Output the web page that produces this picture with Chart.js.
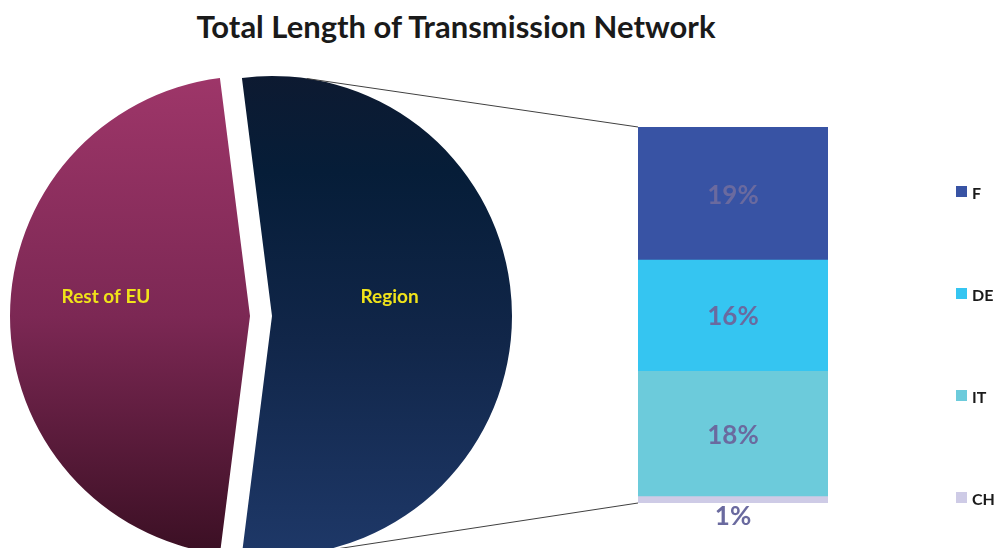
<!DOCTYPE html>
<html>
<head>
<meta charset="utf-8">
<title>Total Length of Transmission Network</title>
<script src="https://cdn.jsdelivr.net/npm/chart.js@4.4.1/dist/chart.umd.min.js"></script>
<style>
  body { margin: 0; background: #fff; font-family: Lato, sans-serif; }
  #quadro { position: relative; width: 996px; height: 548px; overflow: hidden; }
  #titulo { position: absolute; left: 0; top: 7px; width: 912px; text-align: center; font-weight: bold; font-size: 31px; color: #1a1a1a; }
  canvas { position: absolute; }
  #barra { left: 600px; top: 100px; }
  #pizza { left: 0; top: 0; }
  #legenda { position: absolute; left: 956px; top: 186px; }
  .item { height: 102px; display: flex; align-items: flex-start; font-weight: bold; font-size: 16px; line-height: 13px; color: #1a1a1a; }
  .caixa { width: 11px; height: 11px; margin-right: 5px; }
</style>
</head>
<body>
<div id="quadro">
  <div id="titulo">Total Length of Transmission Network</div>
  <canvas id="barra" width="300" height="448"></canvas>
  <canvas id="pizza" width="996" height="548"></canvas>
  <div id="legenda"></div>
</div>
<script>
// Dados
const fatias = ['Region', 'Rest of EU'];
const valoresFatias = [54, 46];
const paises = ['F', 'DE', 'IT', 'CH'];
const valoresPaises = [19, 16, 18, 1];

const totalRegiao = valoresPaises.reduce((a, b) => a + b, 0);
const totalPizza = valoresFatias.reduce((a, b) => a + b, 0);

// Cores
const corPaises = ['#3853a4', '#35c5f1', '#6ccbdb', '#cecbe6'];
const paradasFatias = [
  [[0, '#0d1a31'], [0.2, '#061d38'], [0.55, '#112649'], [1, '#1e3868']],
  [[0, '#9e3669'], [0.5, '#7c2854'], [1, '#3a0f23']]
];
const RAIO = 240;
const EXPLOSAO = 11;

// Degradê vertical de cada fatia
function gradiente(context) {
  const { chart, dataIndex } = context;
  const area = chart.chartArea;
  if (!area) return null;
  const cy = (area.top + area.bottom) / 2;
  const g = chart.ctx.createLinearGradient(0, cy - RAIO, 0, cy + RAIO);
  paradasFatias[dataIndex].forEach(([p, c]) => g.addColorStop(p, c));
  return g;
}

// Percentuais dentro da barra (ou logo abaixo, se o segmento for fino)
const rotulosBarra = {
  id: 'rotulosBarra',
  afterDatasetsDraw(chart) {
    const ctx = chart.ctx;
    ctx.save();
    ctx.font = 'bold 26px Lato';
    ctx.fillStyle = '#6a6a9f';
    ctx.textAlign = 'center';
    ctx.textBaseline = 'middle';
    chart.data.datasets.forEach((ds, i) => {
      const bar = chart.getDatasetMeta(i).data[0];
      const alto = Math.abs(bar.base - bar.y);
      const y = alto < 20 ? Math.max(bar.base, bar.y) + 14 : (bar.base + bar.y) / 2 + 2;
      ctx.fillText(ds.data[0] + '%', bar.x, y);
    });
    ctx.restore();
  }
};

const barChart = new Chart(document.getElementById('barra'), {
  type: 'bar',
  data: {
    labels: ['Region'],
    datasets: paises.map((p, i) => ({
      label: p,
      data: [valoresPaises[i]],
      backgroundColor: corPaises[i],
      borderWidth: 0,
      barPercentage: 1,
      categoryPercentage: 1
    }))
  },
  options: {
    responsive: false,
    animation: false,
    layout: { padding: { left: 38, right: 72, top: 27, bottom: 45 } },
    scales: {
      x: { stacked: true, display: false },
      y: { stacked: true, display: false, reverse: true, min: 0, max: totalRegiao }
    },
    plugins: { legend: { display: false }, tooltip: { enabled: false } }
  },
  plugins: [rotulosBarra]
});

// Afasta cada fatia do centro ao longo do seu ângulo médio
const explodir = {
  id: 'explodir',
  afterDatasetUpdate(chart, args) {
    args.meta.data.forEach(arc => {
      const meio = (arc.startAngle + arc.endAngle) / 2;
      arc.x += Math.cos(meio) * EXPLOSAO;
      arc.y += Math.sin(meio) * EXPLOSAO;
    });
  }
};

// Nomes das fatias
const posRotulo = [0.49, 0.6];
const rotulosPizza = {
  id: 'rotulosPizza',
  afterDatasetsDraw(chart) {
    const ctx = chart.ctx;
    ctx.save();
    ctx.font = 'bold 19px Lato';
    ctx.fillStyle = '#f0e31a';
    ctx.textAlign = 'center';
    ctx.textBaseline = 'middle';
    chart.getDatasetMeta(0).data.forEach((arc, i) => {
      const meio = (arc.startAngle + arc.endAngle) / 2;
      const r = arc.outerRadius * posRotulo[i];
      ctx.fillText(fatias[i], arc.x + Math.cos(meio) * r, arc.y + Math.sin(meio) * r - 19);
    });
    ctx.restore();
  }
};

// Linhas tangentes da fatia Region até os cantos da barra
const conectores = {
  id: 'conectores',
  afterDraw(chart) {
    const arc = chart.getDatasetMeta(0).data[0];
    const cx = arc.x, cy = arc.y, r = arc.outerRadius;

    const dx0 = barChart.canvas.offsetLeft - chart.canvas.offsetLeft;
    const dy0 = barChart.canvas.offsetTop - chart.canvas.offsetTop;
    const bar = barChart.getDatasetMeta(0).data[0];
    const yScale = barChart.scales.y;
    const esq = bar.x - bar.width / 2 + dx0;
    const cantos = [
      [esq, yScale.getPixelForValue(0) + dy0, -1],
      [esq, yScale.getPixelForValue(totalRegiao) + dy0, 1]
    ];

    const ctx = chart.ctx;
    ctx.save();
    ctx.strokeStyle = '#404040';
    ctx.lineWidth = 1;
    cantos.forEach(([px, py, lado]) => {
      const d = Math.hypot(px - cx, py - cy);
      const ang = Math.atan2(py - cy, px - cx) + lado * Math.acos(r / d);
      ctx.beginPath();
      ctx.moveTo(px, py);
      ctx.lineTo(cx + Math.cos(ang) * r, cy + Math.sin(ang) * r);
      ctx.stroke();
    });
    ctx.restore();
  }
};

const pieChart = new Chart(document.getElementById('pizza'), {
  type: 'pie',
  data: {
    labels: fatias,
    datasets: [{
      data: valoresFatias,
      backgroundColor: gradiente,
      borderWidth: 0
    }]
  },
  options: {
    responsive: false,
    animation: false,
    radius: RAIO,
    // Region centrada à direita
    rotation: 90 - valoresFatias[0] / totalPizza * 180,
    layout: { padding: { left: 0, right: 474, top: 84, bottom: 0 } },
    plugins: { legend: { display: false }, tooltip: { enabled: false } }
  },
  plugins: [explodir, rotulosPizza, conectores]
});

// Legenda
const legenda = document.getElementById('legenda');
paises.forEach((p, i) => {
  const item = document.createElement('div');
  item.className = 'item';
  item.innerHTML = '<span class="caixa" style="background:' + corPaises[i] + '"></span>' + p;
  legenda.appendChild(item);
});
</script>
</body>
</html>
